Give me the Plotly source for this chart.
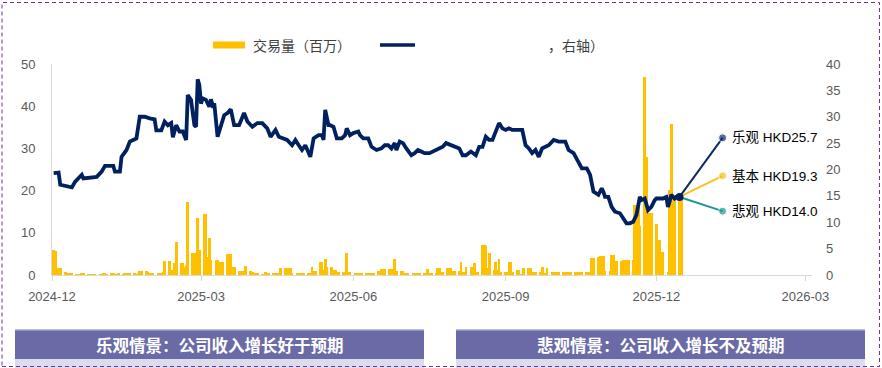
import pandas as pd
import plotly.graph_objects as go

# ---------------- data ----------------
price_dates = [
    "2024-12-02","2024-12-05","2024-12-06","2024-12-13","2024-12-15","2024-12-19","2024-12-20","2024-12-25",
    "2024-12-28","2024-12-31","2025-01-02","2025-01-07","2025-01-08","2025-01-11","2025-01-12","2025-01-15",
    "2025-01-17","2025-01-19","2025-01-21","2025-01-23","2025-01-26","2025-01-29","2025-02-01","2025-02-02",
    "2025-02-05","2025-02-07","2025-02-09","2025-02-11","2025-02-12","2025-02-14","2025-02-16","2025-02-18",
    "2025-02-20","2025-02-21","2025-02-23","2025-02-24","2025-02-25","2025-02-26","2025-02-27","2025-02-28",
    "2025-03-01","2025-03-02","2025-03-04","2025-03-06","2025-03-07","2025-03-08","2025-03-09","2025-03-11",
    "2025-03-13","2025-03-15","2025-03-17","2025-03-19","2025-03-21","2025-03-24","2025-03-27","2025-03-29",
    "2025-04-01","2025-04-04","2025-04-07","2025-04-10","2025-04-12","2025-04-15","2025-04-17","2025-04-20",
    "2025-04-22","2025-04-25","2025-04-27","2025-04-29","2025-05-01","2025-05-03","2025-05-06","2025-05-08",
    "2025-05-11","2025-05-13","2025-05-14","2025-05-15","2025-05-17","2025-05-18","2025-05-20","2025-05-22",
    "2025-05-25","2025-05-27","2025-05-28","2025-05-30","2025-06-01","2025-06-04","2025-06-05","2025-06-07",
    "2025-06-10","2025-06-12","2025-06-15","2025-06-18","2025-06-20","2025-06-22","2025-06-24","2025-06-26",
    "2025-06-27","2025-06-29","2025-07-01","2025-07-03","2025-07-06","2025-07-08","2025-07-10","2025-07-12",
    "2025-07-14","2025-07-17","2025-07-21","2025-07-23","2025-07-25","2025-07-27","2025-07-30","2025-08-02",
    "2025-08-04","2025-08-06","2025-08-08","2025-08-11","2025-08-14","2025-08-16","2025-08-18","2025-08-20",
    "2025-08-22","2025-08-24","2025-08-26","2025-08-28","2025-08-30","2025-09-01","2025-09-03","2025-09-05",
    "2025-09-09","2025-09-11","2025-09-13","2025-09-15","2025-09-17","2025-09-19","2025-09-21","2025-09-23",
    "2025-09-25","2025-09-27","2025-09-30","2025-10-03","2025-10-07","2025-10-09","2025-10-12","2025-10-15",
    "2025-10-17","2025-10-20","2025-10-22","2025-10-24","2025-10-26","2025-10-27","2025-10-29","2025-10-30",
    "2025-10-31","2025-11-02","2025-11-04","2025-11-06","2025-11-09","2025-11-11","2025-11-13","2025-11-15",
    "2025-11-17","2025-11-19","2025-11-20","2025-11-21","2025-11-22","2025-11-24","2025-11-26","2025-11-28",
    "2025-11-30","2025-12-01","2025-12-03","2025-12-05","2025-12-07","2025-12-08","2025-12-09","2025-12-10",
    "2025-12-12","2025-12-13","2025-12-15",
]
price_values = [
    19.3,19.4,17.1,16.6,17.7,19.0,18.3,18.6,
    18.6,19.6,20.7,20.7,19.6,19.6,22.4,23.7,
    25.3,25.6,25.9,30.0,30.0,29.7,29.5,27.4,
    27.4,29.1,28.4,28.8,26.1,28.4,27.2,27.2,
    25.6,34.1,33.2,30.7,28.4,28.1,37.1,36.0,
    32.5,33.5,33.2,31.9,33.3,32.2,32.5,26.2,
    28.1,30.3,30.7,31.4,28.4,28.4,30.7,29.1,
    28.1,28.8,28.8,27.8,26.2,27.5,26.2,25.9,
    25.6,24.6,25.6,24.6,23.7,24.6,22.4,25.9,
    26.5,26.5,25.6,31.3,28.4,28.4,28.1,25.9,
    25.9,26.5,27.8,26.5,26.9,27.2,26.5,25.9,
    25.9,24.3,23.7,24.0,24.6,24.6,24.0,25.0,
    23.7,25.3,25.0,24.0,22.7,23.1,23.7,23.4,
    23.1,23.1,23.7,24.0,24.3,25.0,24.6,24.3,
    24.0,22.7,22.7,23.4,22.7,24.3,24.3,26.2,
    25.6,25.6,27.2,28.8,27.8,27.5,27.8,27.5,
    27.5,27.5,24.6,24.0,23.1,23.7,22.4,24.0,
    24.3,24.6,25.6,25.3,25.3,23.7,23.1,21.5,
    20.2,20.2,19.0,15.8,15.5,15.2,16.4,15.8,
    14.8,14.8,12.9,12.0,11.7,10.7,9.8,9.8,
    10.1,11.4,12.9,14.8,14.2,14.5,12.3,12.9,
    14.2,14.5,14.5,14.5,14.8,12.9,13.9,15.2,
    14.5,14.8,14.8,
]

# daily trading volume (millions), one value per business day of each month
vol_2024_12 = [5.9,5.8,1.2,1.7,1.6, 0.6,0.2,0.3,0.3,0.3, 0.2,0.2,0.2,0.3,0.5, 0.2,0.1,0.1,0.2,0.2, 0.2,0.2]
vol_2025_01 = [0.3,0.3,0.2, 0.3,0.3,0.2,0.2,0.3, 0.2,0.4,0.5,0.4,0.3, 0.3,0.2,0.3,0.9,0.9, 0.9,0.8,0.3,0.3,0.4]
vol_2025_02 = [0.4,0.4,0.5,0.8,3.3, 3.3,1.2,1.2,2.8,7.9, 2.8,2.8,2.0,2.4,17.4, 5.1,5.1,2.4,13.4,5.9]
vol_2025_03 = [14.4,14.4,4.3,8.7,3.6, 3.6,3.6,3.2,3.2,3.2, 4.9,4.9,4.9,2.0,2.0, 1.0,0.9,0.9,0.9,2.2, 0.9]
vol_2025_04 = [0.6,0.5,0.5,0.4, 0.2,0.2,0.8,0.4,0.4, 0.4,0.4,0.4,0.4,1.7, 1.7,1.7,0.3,1.6,0.4, 0.4,0.4,0.4]
vol_2025_05 = [0.4,0.4, 0.4,0.4,2.0,0.9,0.9, 3.2,3.2,1.2,3.9,2.0, 2.0,1.2,1.2,0.6,0.6, 0.6,0.5,5.1,0.8,0.8]
vol_2025_06 = [0.4,0.4,0.4,0.4,0.4, 0.4,0.4,0.4,0.4,0.5, 0.9,0.9,1.4,1.4,1.4, 1.4,1.4,1.4,3.8,0.9, 0.9]
vol_2025_07 = [0.9,0.5,0.4,0.4, 0.4,0.4,0.4,0.4,0.4, 0.4,0.4,1.4,0.4,0.4, 0.4,1.6,1.7,0.8,0.8, 1.7,1.7,1.7,0.9]
vol_2025_08 = [0.9, 0.9,3.2,0.8,0.8,2.0, 2.0,2.0,2.8,0.8,0.8, 7.1,7.1,6.8,1.6,5.1, 1.2,3.2,1.2,3.8,0.8]
vol_2025_09 = [0.8,0.8,3.0,3.0,0.8, 1.2,1.2,0.2,0.2,1.7, 1.7,1.7,0.8,0.8,0.8, 0.8,2.0,0.4,0.4,1.7, 0.6,0.6]
vol_2025_10 = [0.6,0.6,0.6, 0.6,0.6,0.6,0.6,0.6, 0.6,0.6,0.6,0.6,0.6, 0.6,0.6,0.6,4.1,4.1, 4.3,4.6,4.6,4.6,1.0]
vol_2025_11 = [1.0,4.7,4.7,3.3,3.3, 3.3,3.6,3.6,3.5,3.5, 3.5,16.6,16.6,16.9,11.5, 47.0,28.0,14.6,14.6,14.6]
vol_2025_12 = [12.0,8.3,8.3,5.5,5.5, 0.8,20.1,35.9,18.6,18.6, 18.6,18.6]

vol_months = [
    ("2024-12-01", "2024-12-31", vol_2024_12), ("2025-01-01", "2025-01-31", vol_2025_01),
    ("2025-02-01", "2025-02-28", vol_2025_02), ("2025-03-01", "2025-03-31", vol_2025_03),
    ("2025-04-01", "2025-04-30", vol_2025_04), ("2025-05-01", "2025-05-31", vol_2025_05),
    ("2025-06-01", "2025-06-30", vol_2025_06), ("2025-07-01", "2025-07-31", vol_2025_07),
    ("2025-08-01", "2025-08-31", vol_2025_08), ("2025-09-01", "2025-09-30", vol_2025_09),
    ("2025-10-01", "2025-10-31", vol_2025_10), ("2025-11-01", "2025-11-30", vol_2025_11),
    ("2025-12-01", "2025-12-16", vol_2025_12),
]

scenario_names = ["乐观", "基本", "悲观"]
scenario_labels = ["乐观 HKD25.7", "基本 HKD19.3", "悲观 HKD14.0"]
scenario_values = [26.0, 18.8, 12.1]
scenario_date = "2026-01-10"
scenario_colors = ["#0d2a66", "#f7c31a", "#1a9a93"]

x_tick_vals = ["2024-12-01", "2025-03-01", "2025-06-01", "2025-09-01", "2025-12-01", "2026-03-01"]
x_tick_text = ["2024-12", "2025-03", "2025-06", "2025-09", "2025-12", "2026-03"]

legend_vol = "交易量（百万）"
legend_price_tail = "，右轴）"
box_left_text = "乐观情景：公司收入增长好于预期"
box_right_text = "悲观情景：公司收入增长不及预期"

# ---------------- build ----------------
vol_dates, vol_values = [], []
for start, end, vals in vol_months:
    days = pd.bdate_range(start, end)
    for d, v in zip(days, vals):
        vol_dates.append(d)
        vol_values.append(v)

W, H = 882, 368
L, R, T, B = 52, 812, 64, 275  # plot area in pixels


def px(x):
    return (x - L) / (R - L)


def py(y):
    return (B - y) / (B - T)


NAVY = "#002060"
GOLD = "#ffc000"
TICK = "#595959"
LAT = "Liberation Sans, Arial, Noto Sans CJK SC"
CJK = "Noto Sans CJK SC, Liberation Sans"

fig = go.Figure()

fig.add_trace(go.Bar(
    x=vol_dates, y=vol_values, yaxis="y", marker=dict(color=GOLD, line=dict(width=0)),
    width=86400000 * 1.7, showlegend=False, hoverinfo="skip",
))

fig.add_trace(go.Scatter(
    x=price_dates, y=price_values, yaxis="y2", mode="lines",
    line=dict(color=NAVY, width=3.8), showlegend=False,
))

end_date = price_dates[-1]
end_val = price_values[-1]
for name, val, col in zip(scenario_names, scenario_values, scenario_colors):
    fig.add_trace(go.Scatter(
        x=[end_date, scenario_date], y=[end_val, val], yaxis="y2",
        mode="lines+markers", line=dict(color=col, width=2),
        marker=dict(color=col, size=[0, 8]), showlegend=False, name=name,
    ))
fig.add_trace(go.Scatter(
    x=[end_date], y=[end_val], yaxis="y2", mode="markers",
    marker=dict(color=NAVY, size=8), showlegend=False,
))

annotations = []
for lab, val in zip(scenario_labels, scenario_values):
    annotations.append(dict(
        x=scenario_date, y=val, xref="x", yref="y2", text=lab, showarrow=False,
        xanchor="left", yanchor="middle", xshift=7,
        font=dict(family=LAT, size=13.5, color="#000000"),
    ))

# custom legend
shapes = [
    dict(type="rect", xref="paper", yref="paper", x0=px(213), x1=px(245), y0=py(48.5), y1=py(41.5),
         fillcolor=GOLD, line=dict(width=0)),
    dict(type="line", xref="paper", yref="paper", x0=px(380), x1=px(415), y0=py(45), y1=py(45),
         line=dict(color=NAVY, width=3.5)),
]
annotations += [
    dict(x=px(251), y=py(45), xref="paper", yref="paper", text=legend_vol, showarrow=False,
         xanchor="left", yanchor="middle", font=dict(family=CJK, size=14, color="#404040")),
    dict(x=px(546), y=py(45), xref="paper", yref="paper", text=legend_price_tail, showarrow=False,
         xanchor="left", yanchor="middle", font=dict(family=CJK, size=14, color="#404040")),
]

# bottom boxes
for x0, x1, txt in [(15, 424, box_left_text), (456, 865, box_right_text)]:
    shapes.append(dict(type="rect", xref="paper", yref="paper", x0=px(x0), x1=px(x1),
                       y0=py(359), y1=py(368), fillcolor="#dcdcec", line=dict(width=0), layer="below"))
    shapes.append(dict(type="rect", xref="paper", yref="paper", x0=px(x0), x1=px(x1),
                       y0=py(359), y1=py(330), fillcolor="#6a6aa6", line=dict(width=0), layer="below"))
    shapes.append(dict(type="line", xref="paper", yref="paper", x0=px(x0), x1=px(x1),
                       y0=py(330), y1=py(330), line=dict(color="#a3a3cc", width=1.5)))
    annotations.append(dict(x=px((x0 + x1) / 2), y=py(344.5), xref="paper", yref="paper", text="<b>" + txt + "</b>",
                            showarrow=False, xanchor="center", yanchor="middle",
                            font=dict(family=CJK, size=16.5, color="#ffffff")))

# dashed frame
shapes.append(dict(type="rect", xref="paper", yref="paper", x0=px(2), x1=px(879.5), y0=py(366.5), y1=py(2.5),
                   line=dict(color="#7030a0", width=1, dash="4px,3px"), fillcolor="rgba(0,0,0,0)"))

fig.update_layout(
    width=W, height=H,
    margin=dict(l=L, r=W - R, t=T, b=H - B, pad=0, autoexpand=False),
    paper_bgcolor="white", plot_bgcolor="white",
    showlegend=False,
    xaxis=dict(
        type="date", range=["2024-12-01", "2026-03-05"],
        tickvals=x_tick_vals, ticktext=x_tick_text,
        showline=True, linecolor="#d9d9d9", linewidth=1,
        ticks="outside", ticklen=5, tickcolor="#d9d9d9",
        showgrid=False, zeroline=False, automargin=False,
        tickfont=dict(family=LAT, size=13, color=TICK),
        ticklabelstandoff=4,
    ),
    yaxis=dict(
        range=[0, 50], dtick=10, showgrid=False, zeroline=False,
        showline=True, linecolor="#d9d9d9", linewidth=1, automargin=False,
        tickfont=dict(family=LAT, size=13, color=TICK),
        ticklabelstandoff=13,
    ),
    yaxis2=dict(
        range=[0, 40], dtick=5, overlaying="y", side="right",
        showgrid=False, zeroline=False, showline=False, automargin=False,
        tickfont=dict(family=LAT, size=13, color=TICK),
        ticklabelstandoff=13,
    ),
    shapes=shapes,
    annotations=annotations,
    bargap=0,
)

fig.write_html(
    "out.html",
    config={"displayModeBar": False},
    post_script="document.body.style.margin='0';document.body.style.overflow='hidden';",
)
